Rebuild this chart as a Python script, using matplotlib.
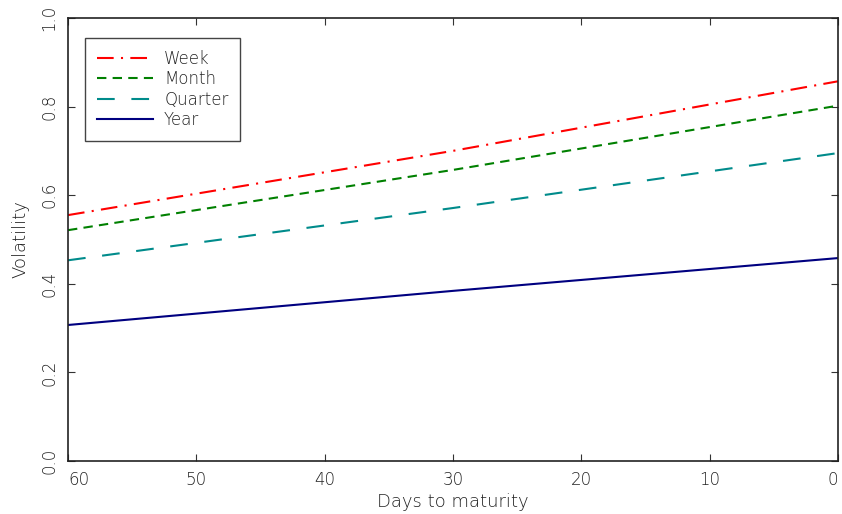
import numpy as np
import matplotlib.pyplot as plt

# days to maturity and volatility
days = [60, 30, 0]
week = [0.555, 0.700, 0.857]
month = [0.521, 0.657, 0.802]
quarter = [0.453, 0.571, 0.695]
year = [0.307, 0.384, 0.458]

x_ticks = [60, 50, 40, 30, 20, 10, 0]
y_ticks = [0.0, 0.2, 0.4, 0.6, 0.8, 1.0]

plt.rcParams['font.family'] = ['DejaVu Sans']
plt.rcParams['font.weight'] = 'ultralight'
plt.rcParams['axes.labelweight'] = 'ultralight'
txt = '#222222'

fig = plt.figure(figsize=(8.42, 5.14), dpi=100)
ax = fig.add_axes([0.0808, 0.1031, 0.9144, 0.862])

ax.plot(days, week, color='#ff0000', lw=1.5, dashes=(8, 3.5, 1, 3.5), label='Week')
ax.plot(days, month, color='#008000', lw=1.5, dashes=(4.5, 3), label='Month')
ax.plot(days, quarter, color='#008b8b', lw=1.5, dashes=(8.5, 8), label='Quarter')
ax.plot(days, year, color='#000080', lw=1.5, label='Year')

ax.set_xlim(60, 0)
ax.set_ylim(0, 1)
ax.set_xticks(x_ticks)
ax.set_xticklabels([str(t) for t in x_ticks], fontsize=12, color=txt)
ax.set_yticks(y_ticks)
ax.set_yticklabels(['%.1f' % t for t in y_ticks], fontsize=12, color=txt,
                   rotation=90, va='center')
ax.get_xticklabels()[0].set_ha('left')
ax.get_xticklabels()[-1].set_ha('right')

ax.tick_params(direction='in', length=5, width=0.8, top=True, right=True,
               color='#333333', pad=7)
for s in ax.spines.values():
    s.set_linewidth(1.2)
    s.set_color('#222222')

ax.set_xlabel('Days to maturity', fontsize=13, color=txt, labelpad=3)
ax.set_ylabel('Volatility', fontsize=13, color=txt, labelpad=8)

leg = ax.legend(loc='upper left', bbox_to_anchor=(0.022, 0.955), borderaxespad=0,
                fancybox=False, edgecolor='#444444', fontsize=12,
                handlelength=3.4, labelspacing=0.15, borderpad=0.7,
                handletextpad=0.65, framealpha=1)
leg.get_frame().set_linewidth(1.0)
for t in leg.get_texts():
    t.set_color(txt)

fig.savefig('out.png', dpi=100)
